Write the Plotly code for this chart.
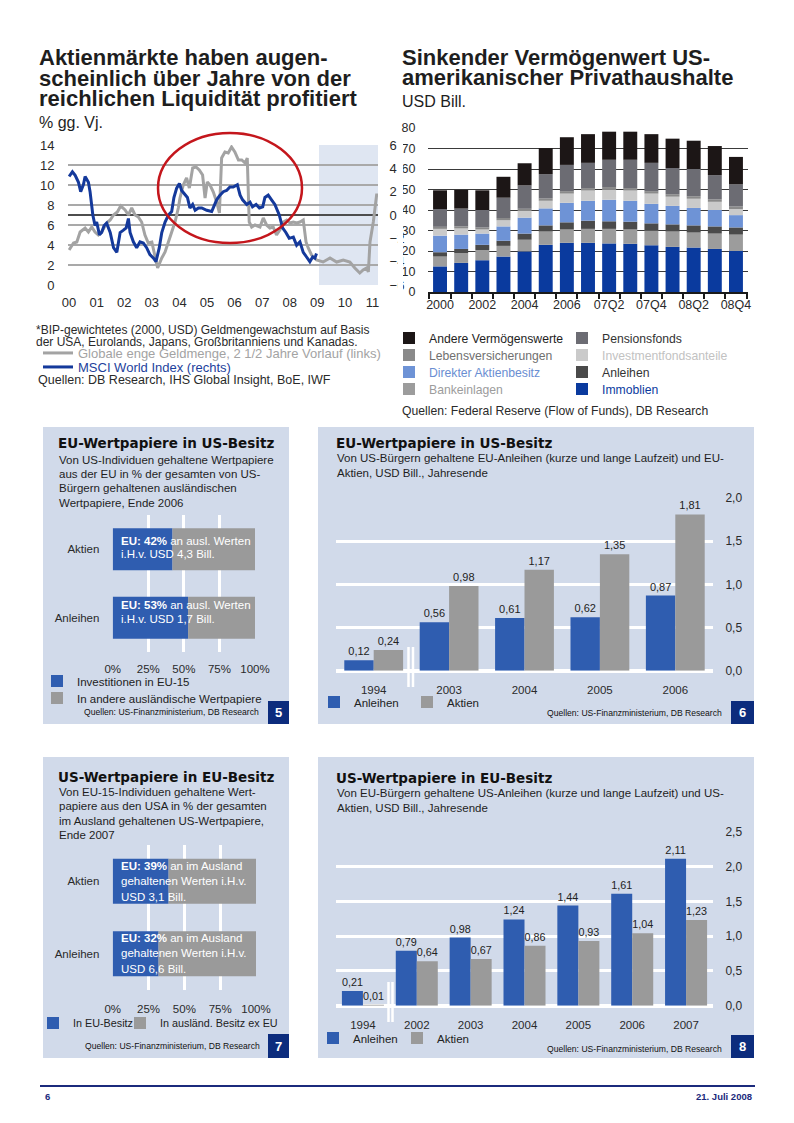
import numpy as np
import plotly.graph_objects as go

# The page keeps the browser's default 8 px body margin, so the figure is
# 778 x 1107 and sits at (8, 8) inside the 794 x 1123 window.
PAGE_OFF = 8
FW, FH = 778, 1107
FONT = "Liberation Sans, Arial, sans-serif"
HEAVY = "DejaVu Sans, Liberation Sans, sans-serif"


def X(px):
    return (px - PAGE_OFF) / FW


def Y(py):
    return 1 - (py - PAGE_OFF) / FH


# ---------------------------------------------------------------- data
# Chart 1: liquidity vs. MSCI World
year_ticks = list(range(2000, 2012))
year_labels = [f"{y % 100:02d}" for y in year_ticks]
FORECAST_START = 2009.06

money_years = [2000.00, 2000.16, 2000.28, 2000.40, 2000.58, 2000.70, 2000.82, 2000.94, 2001.06, 2001.18,
               2001.36, 2001.49, 2001.61, 2001.75, 2001.87, 2002.03, 2002.15, 2002.27, 2002.39, 2002.51,
               2002.63, 2002.75, 2002.87, 2003.00, 2003.12, 2003.21, 2003.36, 2003.48, 2003.60, 2003.72,
               2003.84, 2003.96, 2004.02, 2004.14, 2004.26, 2004.36, 2004.48, 2004.60, 2004.72, 2004.84,
               2004.93, 2005.01, 2005.11, 2005.23, 2005.35, 2005.45, 2005.53, 2005.65, 2005.77, 2005.89,
               2006.01, 2006.14, 2006.26, 2006.38, 2006.46, 2006.53, 2006.62, 2006.74, 2006.92, 2007.04,
               2007.16, 2007.28, 2007.40, 2007.52, 2007.64, 2007.77, 2007.89, 2008.01, 2008.13, 2008.25,
               2008.37, 2008.49, 2008.59, 2008.67, 2008.79, 2008.97, 2009.21, 2009.46, 2009.70, 2009.94,
               2010.18, 2010.36, 2010.54, 2010.66, 2010.79, 2010.85, 2010.91, 2011.03, 2011.15, 2011.21]
money_growth = [3.5, 4.2, 4.3, 5.3, 5.7, 5.3, 5.8, 5.3, 5.0, 5.3,
                6.2, 6.5, 7.0, 7.3, 7.9, 7.5, 7.0, 7.7, 7.0, 6.8,
                6.3, 5.0, 4.2, 4.3, 2.8, 1.7, 2.7, 3.3, 4.3, 5.3,
                6.3, 7.7, 8.7, 10.0, 10.7, 9.7, 11.7, 11.8, 11.5, 11.0,
                8.7, 10.3, 10.0, 9.3, 8.3, 7.2, 12.7, 13.3, 13.2, 13.8,
                13.3, 12.5, 12.5, 12.2, 12.7, 6.3, 5.8, 6.0, 5.8, 6.7,
                6.0, 5.7, 5.8, 5.0, 5.5, 6.3, 6.5, 6.2, 6.3, 6.2,
                6.3, 6.5, 4.3, 3.7, 3.0, 2.5, 2.3, 2.7, 2.3, 2.5,
                2.3, 1.7, 1.2, 1.5, 1.7, 1.3, 4.3, 6.3, 9.0, 9.0]

msci_years = [2000.00, 2000.12, 2000.22, 2000.34, 2000.42, 2000.52, 2000.58, 2000.70, 2000.76, 2000.86,
              2000.94, 2001.00, 2001.10, 2001.18, 2001.27, 2001.36, 2001.49, 2001.61, 2001.73, 2001.85,
              2001.97, 2002.07, 2002.15, 2002.21, 2002.33, 2002.45, 2002.57, 2002.69, 2002.81, 2002.93,
              2003.06, 2003.15, 2003.27, 2003.36, 2003.48, 2003.60, 2003.72, 2003.80, 2003.90, 2004.00,
              2004.08, 2004.20, 2004.29, 2004.38, 2004.48, 2004.57, 2004.69, 2004.81, 2004.99, 2005.17,
              2005.25, 2005.35, 2005.47, 2005.59, 2005.71, 2005.83, 2005.95, 2006.10, 2006.20, 2006.29,
              2006.44, 2006.56, 2006.65, 2006.78, 2006.90, 2007.02, 2007.10, 2007.22, 2007.34, 2007.46,
              2007.62, 2007.74, 2007.86, 2007.98, 2008.13, 2008.25, 2008.37, 2008.49, 2008.61, 2008.73,
              2008.83, 2008.91, 2008.97]
msci_growth = [3.3, 3.7, 3.4, 2.8, 2.0, 2.6, 3.3, 2.8, 2.0, 0.0,
               -0.9, -0.6, -1.7, -1.5, -0.9, -0.7, -1.5, -2.8, -3.2, -1.5,
               -1.3, -1.1, -0.3, -1.5, -2.3, -2.8, -2.3, -2.4, -2.8, -3.4,
               -3.7, -4.0, -2.8, -1.5, -0.6, 0.0, 0.3, 1.5, 2.3, 2.7,
               2.1, 1.7, 1.5, 0.6, 0.9, 0.4, 0.6, 0.6, 0.4, 0.3,
               0.7, 1.3, 1.7, 2.0, 2.1, 2.4, 2.4, 2.6, 1.7, 1.3,
               0.9, 1.1, 0.7, 0.9, 0.6, 0.7, 1.5, 1.7, 1.3, 0.9,
               0.0, -1.1, -1.5, -2.0, -1.9, -2.6, -2.3, -3.2, -3.6, -4.0,
               -3.6, -3.7, -3.3]

# Chart 2: US household wealth (USD Bill.), stacked bottom -> top
c2_periods = ["2000", "2001", "2002", "2003", "2004", "2005", "2006",
              "07Q1", "07Q2", "07Q3", "07Q4", "08Q1", "08Q2", "08Q3", "08Q4"]
c2_immobilien = [12.5, 14.2, 15.5, 17.3, 19.8, 23.0, 24.0, 24.0, 23.7, 23.5, 22.8, 22.0, 21.7, 21.0, 20.0]
c2_bankeinlagen = [4.8, 4.8, 5.0, 5.2, 5.7, 6.5, 6.5, 6.8, 7.1, 7.0, 7.2, 7.5, 7.3, 7.5, 8.0]
c2_anleihen = [2.1, 2.0, 2.5, 2.5, 3.0, 3.0, 3.5, 4.0, 3.7, 3.8, 3.5, 3.5, 3.5, 3.5, 3.5]
c2_aktien = [8.1, 7.0, 5.5, 7.0, 7.8, 8.3, 9.5, 9.7, 10.5, 10.2, 9.5, 9.0, 8.5, 8.0, 6.0]
c2_fonds = [3.3, 3.0, 2.0, 3.0, 3.2, 3.7, 4.5, 5.0, 5.0, 5.0, 5.0, 4.5, 4.5, 4.0, 3.0]
c2_leben = [1.0, 1.0, 1.0, 1.1, 1.1, 1.1, 1.2, 1.2, 1.2, 1.2, 1.2, 1.2, 1.2, 1.2, 1.2]
c2_pension = [8.7, 8.7, 8.5, 9.9, 11.4, 11.9, 12.8, 12.3, 13.3, 13.8, 13.8, 12.8, 13.3, 11.8, 10.8]
c2_andere = [9.1, 9.1, 9.6, 10.2, 10.8, 12.7, 13.5, 14.0, 13.7, 13.7, 14.0, 14.3, 13.8, 14.2, 13.4]
c2_labels = [p if i % 2 == 0 else "" for i, p in enumerate(c2_periods)]

# Chart 5: EU securities held by US residents (% shares, end 2006)
c5_types = ["Anleihen", "Aktien"]
c5_eu = [53, 42]
c5_rest = [47, 58]

# Chart 6: EU securities held by US residents, USD Bill.
c6_years = ["1994", "2003", "2004", "2005", "2006"]
c6_anleihen = [0.12, 0.56, 0.61, 0.62, 0.87]
c6_aktien = [0.24, 0.98, 1.17, 1.35, 1.81]

# Chart 7: US securities held by EU-15 residents (% shares, end 2007)
c7_types = ["Anleihen", "Aktien"]
c7_eu = [32, 39]
c7_rest = [68, 61]

# Chart 8: US securities held by EU residents, USD Bill.
c8_years = ["1994", "2002", "2003", "2004", "2005", "2006", "2007"]
c8_anleihen = [0.21, 0.79, 0.98, 1.24, 1.44, 1.61, 2.11]
c8_aktien = [0.01, 0.64, 0.67, 0.86, 0.93, 1.04, 1.23]

# ---------------------------------------------------------------- styles
GRAYLINE = "#a3a3a3"
NAVY = "#14399b"
BLUE = "#2f5db0"
BARGRAY = "#9a9a9a"
PANEL = "#d1daea"
BOXNAVY = "#0c2c7d"
TXT = "#1e1e1e"

fig = go.Figure()
legends = {}
_leg_count = [0]


def new_legend(text_x, y, size, color="#222"):
    """One legend per entry; text_x is where the entry text should start."""
    _leg_count[0] += 1
    key = "legend" if _leg_count[0] == 1 else f"legend{_leg_count[0]}"
    legends[key] = dict(x=X(text_x - 41), y=Y(y), xanchor="left", yanchor="middle",
                        bgcolor="rgba(0,0,0,0)", borderwidth=0,
                        font=dict(size=size, color=color, family=FONT))
    return key


# ---- chart 1
fig.add_trace(go.Scatter(
    x=money_years, y=money_growth, mode="lines", line=dict(color=GRAYLINE, width=3),
    name=f"<span style='color:{GRAYLINE}'>Globale enge Geldmenge, 2 1/2 Jahre Vorlauf (links)</span>",
    xaxis="x", yaxis="y", legend=new_legend(79, 353, 13)))
fig.add_trace(go.Scatter(
    x=msci_years, y=msci_growth, mode="lines", line=dict(color=NAVY, width=3),
    name="<span style='color:#1d3f9c'>MSCI World Index (rechts)</span>",
    xaxis="x", yaxis="y2", legend=new_legend(79, 367, 13)))

# ---- chart 2 (stacked with explicit base); legend in two columns
C2_LEFT, C2_RIGHT = 430, 603
c2_series = [
    ("Immoblien", c2_immobilien, "#0a3a9e", "#0a3a9e", C2_RIGHT, 389),
    ("Bankeinlagen", c2_bankeinlagen, "#9c9c9c", "#9c9c9c", C2_LEFT, 389),
    ("Anleihen", c2_anleihen, "#4a4a4a", "#333333", C2_RIGHT, 372),
    ("Direkter Aktienbesitz", c2_aktien, "#6e93d6", "#6a8ed2", C2_LEFT, 372),
    ("Investmentfondsanteile", c2_fonds, "#cacaca", "#c2c2c2", C2_RIGHT, 355),
    ("Lebensversicherungen", c2_leben, "#8a8a8a", "#707070", C2_LEFT, 355),
    ("Pensionsfonds", c2_pension, "#6c6c73", "#333333", C2_RIGHT, 338),
    ("Andere Vermögenswerte", c2_andere, "#1c1616", "#1e1e1e", C2_LEFT, 338),
]
bottom = np.zeros(len(c2_periods))
for name, vals, col, tcol, lx, ly in c2_series:
    fig.add_trace(go.Bar(
        x=c2_periods, y=vals, base=bottom.copy(), width=0.66,
        marker=dict(color=col, line=dict(width=0)),
        name=f"<span style='color:{tcol}'>{name}</span>",
        xaxis="x2", yaxis="y3", legend=new_legend(lx, ly, 12.2)))
    bottom = bottom + np.array(vals)

# ---- chart 5
fig.add_trace(go.Bar(y=c5_types, x=c5_eu, base=0, orientation="h", width=0.61,
                     marker=dict(color=BLUE, line=dict(width=0)), name="Investitionen in EU-15",
                     xaxis="x3", yaxis="y4", legend=new_legend(78, 681, 11.5)))
fig.add_trace(go.Bar(y=c5_types, x=c5_rest, base=c5_eu, orientation="h", width=0.61,
                     marker=dict(color=BARGRAY, line=dict(width=0)), name="In andere ausländische Wertpapiere",
                     xaxis="x3", yaxis="y4", legend=new_legend(78, 698, 11.5)))

# ---- chart 6
lab_font = dict(size=11, color="#222", family=FONT)
fig.add_trace(go.Bar(x=c6_years, y=c6_anleihen, width=0.39, offset=-0.39,
                     marker=dict(color=BLUE, line=dict(width=0)), name="Anleihen",
                     texttemplate="%{y:.2f}", textposition="outside", outsidetextfont=lab_font,
                     cliponaxis=False, xaxis="x4", yaxis="y5", legend=new_legend(355, 702, 11.5)))
fig.add_trace(go.Bar(x=c6_years, y=c6_aktien, width=0.39, offset=0,
                     marker=dict(color=BARGRAY, line=dict(width=0)), name="Aktien",
                     texttemplate="%{y:.2f}", textposition="outside", outsidetextfont=lab_font,
                     cliponaxis=False, xaxis="x4", yaxis="y5", legend=new_legend(448, 702, 11.5)))

# ---- chart 7
fig.add_trace(go.Bar(y=c7_types, x=c7_eu, base=0, orientation="h", width=0.62,
                     marker=dict(color=BLUE, line=dict(width=0)), name="In EU-Besitz",
                     xaxis="x5", yaxis="y6", legend=new_legend(74, 1023, 10.8)))
fig.add_trace(go.Bar(y=c7_types, x=c7_rest, base=c7_eu, orientation="h", width=0.62,
                     marker=dict(color=BARGRAY, line=dict(width=0)), name="In ausländ. Besitz ex EU",
                     xaxis="x5", yaxis="y6", legend=new_legend(161, 1023, 10.8)))

# ---- chart 8
fig.add_trace(go.Bar(x=c8_years, y=c8_anleihen, width=0.39, offset=-0.39,
                     marker=dict(color=BLUE, line=dict(width=0)), name="Anleihen",
                     texttemplate="%{y:.2f}", textposition="outside", outsidetextfont=lab_font,
                     cliponaxis=False, xaxis="x6", yaxis="y7", legend=new_legend(354, 1038, 11.5)))
fig.add_trace(go.Bar(x=c8_years, y=c8_aktien, width=0.39, offset=0,
                     marker=dict(color=BARGRAY, line=dict(width=0)), name="Aktien",
                     texttemplate="%{y:.2f}", textposition="outside", outsidetextfont=lab_font,
                     cliponaxis=False, xaxis="x6", yaxis="y7", legend=new_legend(438, 1038, 11.5)))

# ---------------------------------------------------------------- axes
NOTICK = dict(ticks="outside", tickcolor="rgba(0,0,0,0)", automargin=False)


def tf(size=12, color="#2a2a2a"):
    return dict(size=size, color=color, family=FONT)


axes = dict(
    # chart 1
    xaxis=dict(domain=[X(68), X(378)], range=[1999.96, 2011.2], anchor="y",
               tickmode="array", tickvals=year_ticks, ticktext=year_labels,
               showgrid=False, zeroline=False, showline=False, ticklen=5, tickfont=tf(13), **NOTICK),
    yaxis=dict(domain=[Y(285), Y(145)], range=[0, 14], dtick=2, anchor="x",
               showgrid=True, gridcolor="#a9a9a9", gridwidth=1.5, zeroline=False,
               ticklen=10, tickfont=tf(13), **NOTICK),
    yaxis2=dict(overlaying="y", side="right", anchor="x", range=[-6, 6], dtick=2,
                showgrid=False, zeroline=True, zerolinecolor="#4d4d4d", zerolinewidth=2,
                ticklen=8, tickfont=tf(13), **NOTICK),
    # chart 2
    xaxis2=dict(domain=[X(428), X(748)], type="category", range=[-0.57, 14.57], anchor="y3",
                categoryorder="array", categoryarray=c2_periods,
                tickmode="array", tickvals=c2_periods, ticktext=c2_labels, tickangle=0,
                showline=True, linecolor="#1a1a1a", linewidth=2, ticks="outside", ticklen=5,
                tickwidth=1.5, tickcolor="#1a1a1a", tickson="boundaries", showgrid=False,
                automargin=False, tickfont=tf(12.5)),
    yaxis3=dict(domain=[Y(292), Y(128)], range=[0, 80], dtick=10, anchor="x2",
                showgrid=True, gridcolor="#3a3a3a", gridwidth=1, zeroline=False,
                ticklen=9, tickfont=tf(12.5), **NOTICK),
    # chart 5
    xaxis3=dict(domain=[X(112.7), X(255)], range=[0, 100], dtick=25, ticksuffix="%", anchor="y4",
                showgrid=True, gridcolor="white", gridwidth=2.5, zeroline=False,
                ticklen=6, tickfont=tf(11.5), **NOTICK),
    yaxis4=dict(domain=[Y(652), Y(515)], type="category", categoryorder="array", categoryarray=c5_types,
                range=[-0.5, 1.5], anchor="x3", showgrid=False, zeroline=False,
                ticklen=10, tickfont=tf(11.5), **NOTICK),
    # chart 6
    xaxis4=dict(domain=[X(336), X(713)], type="category", range=[-0.5, 4.5], anchor="y5",
                showgrid=False, zeroline=False, ticklen=8, tickfont=tf(11.5), **NOTICK),
    yaxis5=dict(domain=[Y(670.7), Y(498)], range=[0, 2.0], dtick=0.5, tickformat=".1f",
                side="right", anchor="x4", showgrid=True, gridcolor="white", gridwidth=2.5,
                zeroline=True, zerolinecolor="white", zerolinewidth=4,
                ticklen=9, tickfont=tf(12), **NOTICK),
    # chart 7
    xaxis5=dict(domain=[X(112.7), X(256)], range=[0, 100], dtick=25, ticksuffix="%", anchor="y6",
                showgrid=True, gridcolor="white", gridwidth=2.5, zeroline=False,
                ticklen=8, tickfont=tf(11.5), **NOTICK),
    yaxis6=dict(domain=[Y(990), Y(845)], type="category", categoryorder="array", categoryarray=c7_types,
                range=[-0.5, 1.5], anchor="x5", showgrid=False, zeroline=False,
                ticklen=10, tickfont=tf(11.5), **NOTICK),
    # chart 8
    xaxis6=dict(domain=[X(336), X(713)], type="category", range=[-0.5, 6.5], anchor="y7",
                showgrid=False, zeroline=False, ticklen=8, tickfont=tf(11.5), **NOTICK),
    yaxis7=dict(domain=[Y(1005.7), Y(831.7)], range=[0, 2.5], dtick=0.5, tickformat=".1f",
                side="right", anchor="x6", showgrid=True, gridcolor="white", gridwidth=2.5,
                zeroline=True, zerolinecolor="white", zerolinewidth=4,
                ticklen=9, tickfont=tf(12), **NOTICK),
)

# ---------------------------------------------------------------- shapes
shapes = []


def rect(x0, y0, x1, y1, color, layer="below"):
    shapes.append(dict(type="rect", xref="paper", yref="paper", x0=X(x0), x1=X(x1), y0=Y(y1), y1=Y(y0),
                       fillcolor=color, line=dict(width=0), layer=layer))


def pline(x0, y0, x1, y1, color, width):
    shapes.append(dict(type="line", xref="paper", yref="paper", x0=X(x0), x1=X(x1), y0=Y(y0), y1=Y(y1),
                       line=dict(color=color, width=width), layer="above"))


# forecast shading chart 1
shapes.append(dict(type="rect", xref="x", yref="y domain", x0=FORECAST_START, x1=2011.2, y0=0, y1=1,
                   fillcolor="#dfe6f2", line=dict(width=0), layer="below"))
# red ellipse
shapes.append(dict(type="circle", xref="paper", yref="paper", x0=X(158), x1=X(302), y0=Y(243), y1=Y(133),
                   line=dict(color="#c4161c", width=2.5), layer="above"))
# white cover clipping the right-axis labels of chart 1 (hidden behind chart 2)
rect(397.5, 136, 403, 294, "white", "above")

# panels
rect(43, 427, 289, 724, PANEL)
rect(318, 427, 754, 724, PANEL)
rect(43, 757, 289, 1058, PANEL)
rect(318, 757, 754, 1058, PANEL)
# number boxes
rect(268, 701, 289, 724, BOXNAVY, "above")
rect(731, 701, 754, 724, BOXNAVY, "above")
rect(268, 1034, 289, 1058, BOXNAVY, "above")
rect(731, 1035, 754, 1058, BOXNAVY, "above")
# axis-break markers
for xx in (408.5, 413):
    pline(xx, 647, xx, 687, "white", 2.5)
for xx in (388.5, 392.5):
    pline(xx, 982, xx, 1022, "white", 2.5)
# footer rule
pline(40, 1086, 755, 1086, "#1b2a7c", 2)

# ---------------------------------------------------------------- annotations
ann = []


def txt(x, y, s, size, color=TXT, anchor="left", family=FONT):
    ann.append(dict(x=X(x), y=Y(y), xref="paper", yref="paper", text=s, showarrow=False,
                    xanchor=anchor, yanchor="middle", font=dict(size=size, color=color, family=family),
                    borderpad=0))


SRC = "Quellen: US-Finanzministerium, DB Research"

# chart 1 text
for i, line in enumerate(["Aktienmärkte haben augen-", "scheinlich über Jahre von der",
                          "reichlichen Liquidität profitiert"]):
    txt(38, 58 + 20 * i, f"<b>{line}</b>", 22)
txt(38, 122, "% gg. Vj.", 16)
txt(35, 330, "*BIP-gewichtetes (2000, USD) Geldmengewachstum auf Basis", 12, "#2a2a2a")
txt(35, 342, "der USA, Eurolands, Japans, Großbritanniens und Kanadas.", 12, "#2a2a2a")
txt(37, 380, "Quellen: DB Research, IHS Global Insight, BoE, IWF", 12.5, "#2a2a2a")

# chart 2 text
for i, line in enumerate(["Sinkender Vermögenwert US-", "amerikanischer Privathaushalte"]):
    txt(401, 58 + 19 * i, f"<b>{line}</b>", 22)
txt(401, 102, "USD Bill.", 16)
txt(401, 411, "Quellen: Federal Reserve (Flow of Funds), DB Research", 12.2, "#2a2a2a")

# panel 5
txt(57, 443, "<b>EU-Wertpapiere in US-Besitz</b>", 13.5, "#111", family=HEAVY)
for i, line in enumerate(["Von US-Individuen gehaltene Wertpapiere", "aus der EU in % der gesamten von US-",
                          "Bürgern gehaltenen ausländischen", "Wertpapiere, Ende 2006"]):
    txt(58, 460 + 14.2 * i, line, 11.5)
txt(120, 541, "<b>EU: 42%</b> an ausl. Werten", 11.5, "white")
txt(120, 554, "i.H.v. USD 4,3 Bill.", 11.5, "white")
txt(120, 605, "<b>EU: 53%</b> an ausl. Werten", 11.5, "white")
txt(120, 619, "i.H.v. USD 1,7 Bill.", 11.5, "white")
txt(83, 712, SRC, 8.6, "#111")
txt(278.5, 712.5, "<b>5</b>", 13, "white", "center")

# panel 6
txt(335, 443, "<b>EU-Wertpapiere in US-Besitz</b>", 13.5, "#111", family=HEAVY)
txt(336, 458, "Von US-Bürgern gehaltene EU-Anleihen (kurze und lange Laufzeit) und EU-", 11.5)
txt(336, 473, "Aktien, USD Bill., Jahresende", 11.5)
txt(723, 713, SRC, 8.6, "#111", "right")
txt(742.5, 712.5, "<b>6</b>", 13, "white", "center")

# panel 7
txt(57, 777, "<b>US-Wertpapiere in EU-Besitz</b>", 13.5, "#111", family=HEAVY)
for i, line in enumerate(["Von EU-15-Individuen gehaltene Wert-", "papiere aus den USA in % der gesamten",
                          "im Ausland gehaltenen US-Wertpapiere,", "Ende 2007"]):
    txt(58, 792 + 14.4 * i, line, 11.5)
for i, line in enumerate(["<b>EU: 39%</b> an im Ausland", "gehaltenen Werten i.H.v.", "USD 3,1 Bill."]):
    txt(120, 866 + 15.3 * i, line, 11.5, "white")
for i, line in enumerate(["<b>EU: 32%</b> an im Ausland", "gehaltenen Werten i.H.v.", "USD 6,6 Bill."]):
    txt(120, 938 + 15.3 * i, line, 11.5, "white")
txt(84, 1046, SRC, 8.6, "#111")
txt(278.5, 1046, "<b>7</b>", 13, "white", "center")

# panel 8
txt(335, 778, "<b>US-Wertpapiere in EU-Besitz</b>", 13.5, "#111", family=HEAVY)
txt(336, 793, "Von EU-Bürgern gehaltene US-Anleihen (kurze und lange Laufzeit) und US-", 11.5)
txt(336, 808, "Aktien, USD Bill., Jahresende", 11.5)
txt(723, 1049, SRC, 8.6, "#111", "right")
txt(742.5, 1046.5, "<b>8</b>", 13, "white", "center")

# footer
txt(44, 1096, "<b>6</b>", 9.5, "#1b2a7c")
txt(753, 1096, "<b>21. Juli 2008</b>", 9.5, "#1b2a7c", "right")

fig.update_layout(
    width=FW, height=FH, margin=dict(l=0, r=0, t=0, b=0, pad=0, autoexpand=False),
    paper_bgcolor="white", plot_bgcolor="rgba(0,0,0,0)",
    barmode="overlay", separators=", ",
    font=dict(family=FONT, color=TXT, size=12),
    showlegend=True, shapes=shapes, annotations=ann,
    **axes, **legends,
)

fig.write_html("out.html", config={"displayModeBar": False})
